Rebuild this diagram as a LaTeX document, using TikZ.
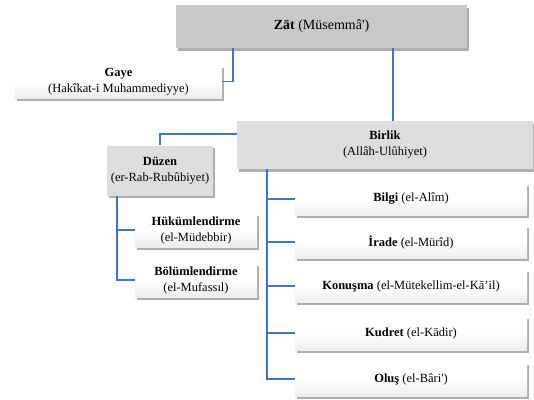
\documentclass[tikz,border=0pt]{standalone}
\usepackage{fontspec}
\setmainfont{Liberation Serif}[Ligatures=TeXOff]
\usetikzlibrary{shadows,calc}
\begin{document}
\begin{tikzpicture}[x=1pt,y=-1pt,
  box/.style={inner sep=0pt, align=center, font=\fontsize{12.5}{16}\selectfont,
    drop shadow={shadow xshift=2pt, shadow yshift=-2.5pt, opacity=0.45, fill=black!70}},
  darkbox/.style={box, fill=black!21},
  graybox/.style={box, fill=black!13},
  whitebox/.style={box, top color=white, bottom color=black!7, middle color=white},
  conn/.style={draw={rgb,255:red,68;green,114;blue,196}, line width=1.1pt}
]
\useasboundingbox (0,0) rectangle (534,399);

\node[darkbox, minimum width=291pt, minimum height=43pt, font=\fontsize{14}{16}\selectfont] (zat) at (321.5,26.5) {\textbf{Zāt} (Müsemmâ')};
\node[whitebox, minimum width=207pt, minimum height=33pt] (gaye) at (118.5,81.5) {\textbf{Gaye}\\(Hakîkat-i Muhammediyye)};
\node[graybox, minimum width=296pt, minimum height=48pt] (birlik) at (385,145) {\textbf{Birlik}\\(Allâh-Ulûhiyet)};
\node[graybox, minimum width=106pt, minimum height=50pt] (duzen) at (160,170.5) {\textbf{Düzen}\\(er-Rab-Rubûbiyet)};
\node[whitebox, minimum width=122pt, minimum height=34pt] (hukum) at (196,230) {\textbf{Hükümlendirme}\\(el-Müdebbir)};
\node[whitebox, minimum width=122pt, minimum height=34pt] (bolum) at (196,280) {\textbf{Bölümlendirme}\\(el-Mufassıl)};

\node[whitebox, minimum width=232pt, minimum height=32pt] (bilgi) at (411,199) {\textbf{Bilgi} (el-Alîm)};
\node[whitebox, minimum width=232pt, minimum height=33pt] (irade) at (411,242) {\textbf{İrade} (el-Mürîd)};
\node[whitebox, minimum width=232pt, minimum height=33pt] (konusma) at (411,286) {\textbf{Konuşma} (el-Mütekellim-el-Kā’il)};
\node[whitebox, minimum width=232pt, minimum height=34pt] (kudret) at (411,333) {\textbf{Kudret} (el-Kādir)};
\node[whitebox, minimum width=232pt, minimum height=34pt] (olus) at (411,379) {\textbf{Oluş} (el-Bâri')};

\coordinate (zl) at (233,0);
\coordinate (zr) at (393,0);
\coordinate (bl) at (0,134);
\coordinate (bt) at (267,0);
\coordinate (dt) at (117,0);

\draw[conn] (zat.south -| zl) |- (gaye.east);
\draw[conn] (zat.south -| zr) -- (birlik.north -| zr);
\draw[conn] (birlik.west |- bl) -| (duzen.north);
\foreach \c in {bilgi,irade,konusma,kudret,olus}
  \draw[conn] (birlik.south -| bt) |- (\c.west);
\foreach \c in {hukum,bolum}
  \draw[conn] (duzen.south -| dt) |- (\c.west);
\end{tikzpicture}
\end{document}
